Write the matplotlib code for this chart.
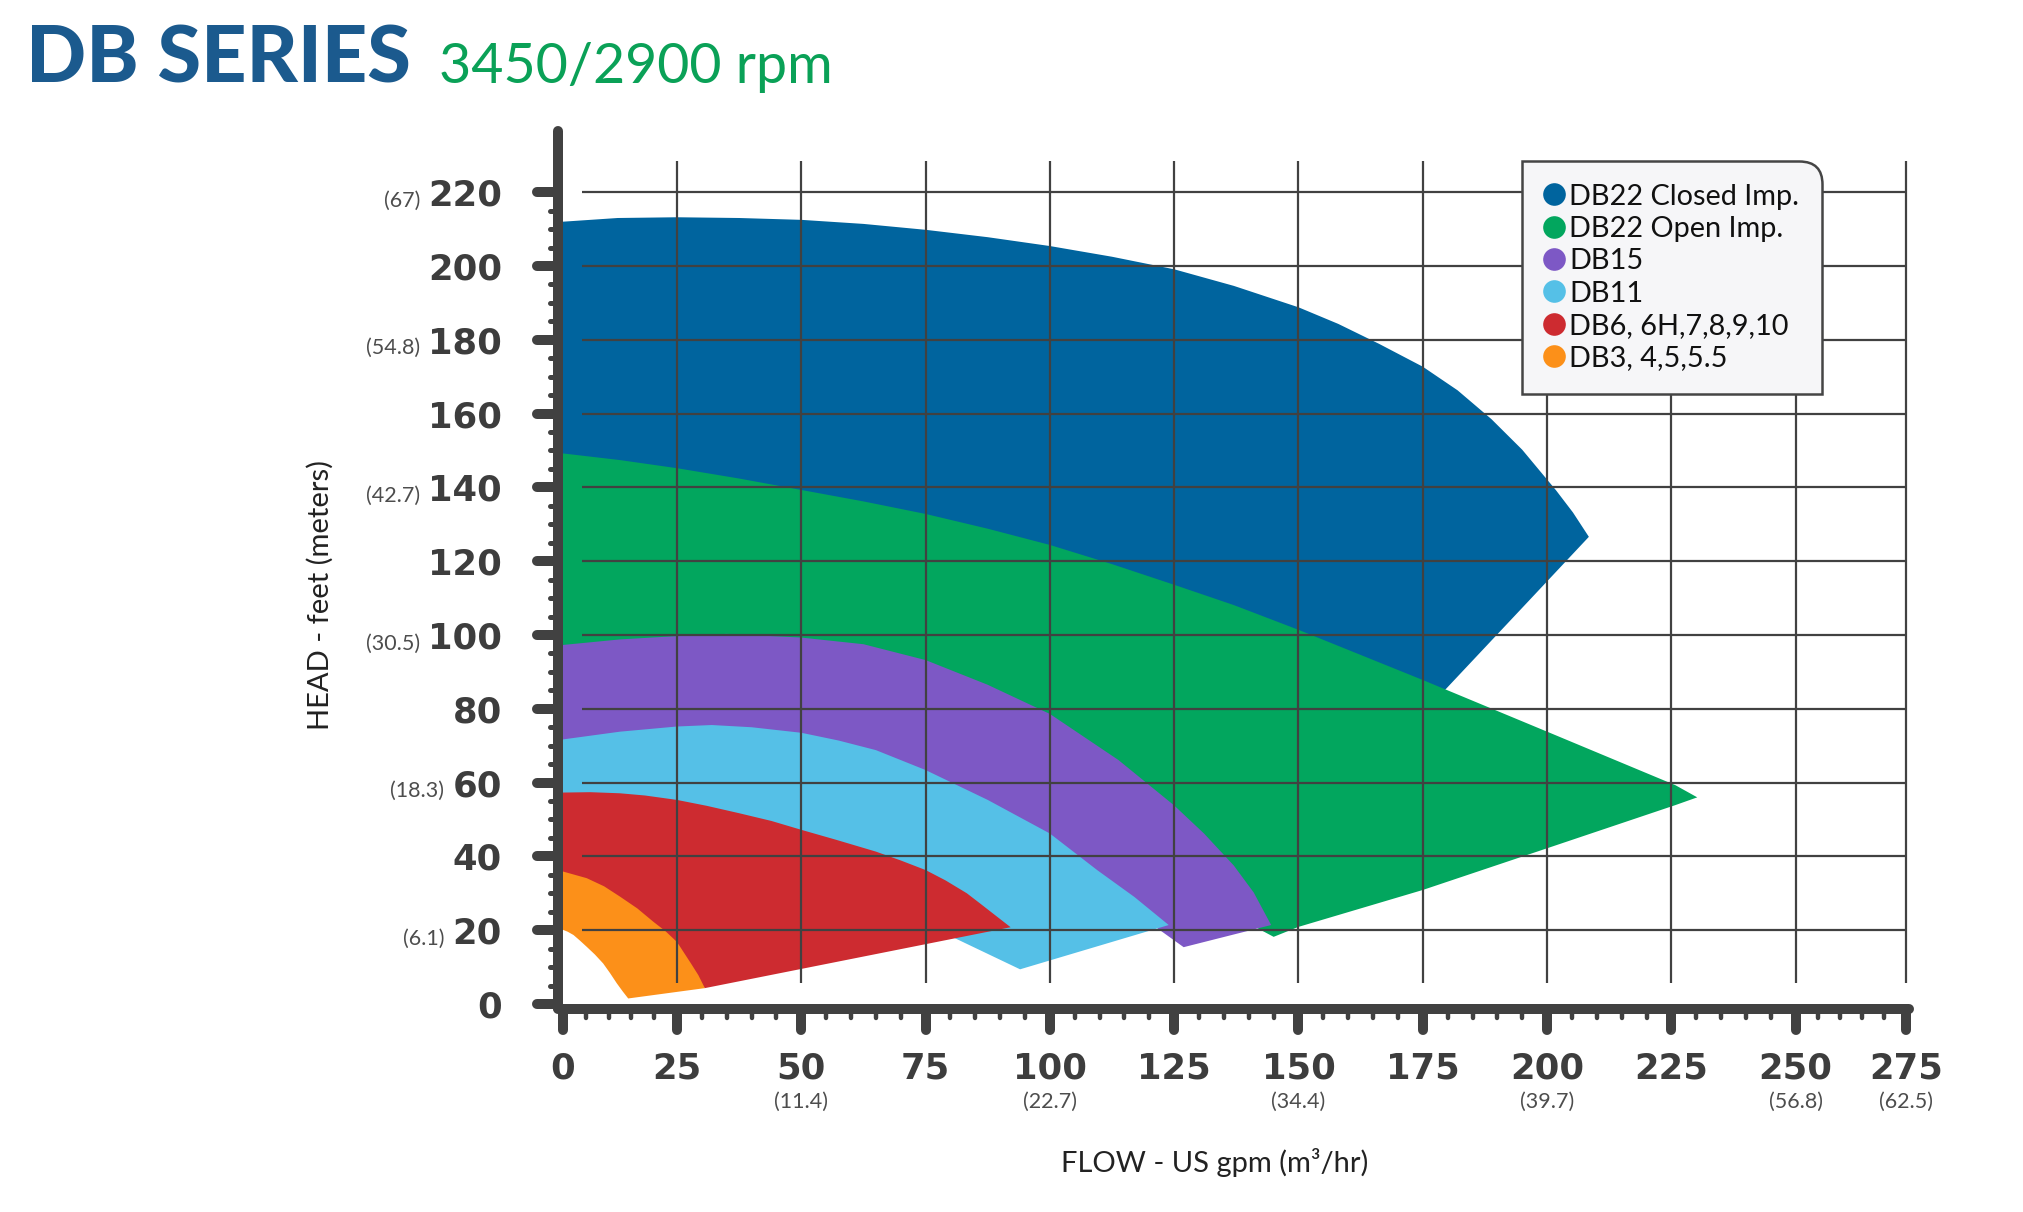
import numpy as np
import matplotlib.pyplot as plt
import matplotlib.ticker as mticker
from matplotlib.lines import Line2D
from matplotlib.markers import MarkerStyle, TICKLEFT, TICKDOWN
from matplotlib.path import Path


# ---------- Data ----------
FLOW_TICKS = [0, 25, 50, 75, 100, 125, 150, 175, 200, 225, 250, 275]
HEAD_TICKS = [0, 20, 40, 60, 80, 100, 120, 140, 160, 180, 200, 220]

FLOW_M3_AT = [50, 100, 150, 200, 250, 275]
FLOW_M3_LBL = ['(11.4)', '(22.7)', '(34.4)', '(39.7)', '(56.8)', '(62.5)']
HEAD_M_AT = [20, 60, 100, 140, 180, 220]
HEAD_M_LBL = ['(6.1)', '(18.3)', '(30.5)', '(42.7)', '(54.8)', '(67)']

SERIES = ['DB22 Closed Imp.', 'DB22 Open Imp.', 'DB15', 'DB11',
          'DB6, 6H,7,8,9,10', 'DB3, 4,5,5.5']
COLORS = ['#00649e', '#02a65e', '#7d58c5', '#55c0e7', '#cd2b30', '#fc9019']

# operating envelopes (gpm, ft) - outline of each coloured area
db22c_flow = [0, 12, 25, 37.5, 50, 62.5, 75, 87.5, 100, 112.5, 125, 137,
              150, 158, 166.2, 175, 182, 188.8, 195, 201.8, 205.2, 208.4,
              196, 179.6, 172, 0]
db22c_head = [212.0, 213.0, 213.2, 213.0, 212.5, 211.4, 209.8, 207.8, 205.4,
              202.5, 199.1, 194.6, 188.8, 184.3, 178.9, 172.7, 166.3, 158.5,
              150.2, 139.2, 133.2, 126.6, 108.8, 85.3, 74.5, 120]

db22o_flow = [0, 12.5, 25, 37.5, 50, 62.5, 75, 87.5, 100, 112.5, 125, 137,
              150, 175, 200, 225.8, 230.2, 225.8, 200, 175, 150, 145, 139,
              110, 0]
db22o_head = [149.2, 147.4, 145.2, 142.4, 139.3, 136.2, 132.8, 128.8, 124.4,
              119.2, 113.6, 108.1, 101.4, 87.8, 73.8, 59.3, 56.0, 53.9, 42.2,
              30.9, 20.9, 18.2, 22.5, 55, 85]

db15_flow = [0, 12.5, 25, 35, 50, 62.5, 75, 87.5, 100, 113.8, 125, 131, 137,
             141, 144.5, 126.9, 118, 90, 0]
db15_head = [97.3, 98.8, 99.7, 100.3, 99.3, 97.5, 93.2, 86.5, 78.6, 66.1,
             53.8, 46.2, 37.5, 30.2, 21.4, 15.4, 24, 45, 62]

db11_flow = [0, 12.5, 25, 32, 40, 50, 57.5, 65, 75, 87.5, 100, 109.5, 117,
             123.9, 94, 81.1, 60, 0]
db11_head = [71.7, 73.8, 75.2, 75.6, 75.0, 73.5, 71.4, 68.8, 63.4, 55.3, 46.2,
             36.3, 29.0, 21.4, 9.4, 17.7, 30, 45]

db6_flow = [0, 6, 12.5, 18, 25, 31, 37.5, 44, 50, 57, 65, 70, 75, 79, 83.3,
            86, 92.1, 30.6, 20, 0]
db6_head = [57.3, 57.4, 57.1, 56.5, 55.3, 53.7, 51.7, 49.6, 47.2, 44.5, 41.3,
            38.9, 36.3, 33.5, 30.0, 27.2, 20.8, 4.3, 15, 25]

db3_flow = [0, 5.2, 9, 12.5, 16.3, 19.8, 22.5, 25, 27.8, 29.3, 30.6, 14.3,
            13.1, 11.8, 10.3, 8.8, 7, 5.2, 3.7, 2.3, 1, 0]
db3_head = [35.9, 34.1, 31.9, 29.1, 25.9, 22.3, 19.7, 16.8, 11.0, 7.8, 4.3,
            1.5, 3.4, 5.6, 8.4, 11.0, 13.4, 15.5, 17.2, 18.7, 19.6, 20.1]

OUTLINES = [(db22c_flow, db22c_head), (db22o_flow, db22o_head),
            (db15_flow, db15_head), (db11_flow, db11_head),
            (db6_flow, db6_head), (db3_flow, db3_head)]

DARK = '#414141'
TITLE_BLUE = '#1b5a8e'
RPM_GREEN = '#0aa157'


# ---------- Flow scale: the sheet draws the first and last 25 gpm steps narrower ----------
_XK = np.array([-100.0, 0.0, 25.0, 250.0, 275.0, 400.0])
_PK = np.array([-456.0, 0.0, 114.0, 1232.7, 1342.7, 1892.7])


def flow_fwd(x):
    return np.interp(x, _XK, _PK)


def flow_inv(p):
    return np.interp(p, _PK, _XK)


def corner_box(x0, y0, width, height, mutation_size):
    """Legend frame with only the top-right corner rounded."""
    r = 0.8 * mutation_size
    x1, y1 = x0 + width, y0 + height
    verts = [(x0, y0), (x1, y0), (x1, y1 - r), (x1, y1), (x1 - r, y1),
             (x0, y1), (x0, y0)]
    codes = [Path.MOVETO, Path.LINETO, Path.LINETO, Path.CURVE3, Path.CURVE3,
             Path.LINETO, Path.CLOSEPOLY]
    return Path(verts, codes)


# ---------- Figure ----------
fig = plt.figure(figsize=(20.24, 12.12), dpi=100)
ax = fig.add_axes([0.26690, 0.15944, 0.68117, 0.73833])
ax.set_xscale('function', functions=(flow_fwd, flow_inv))
ax.set_xlim(-5, 278)
ax.set_ylim(-4, 238.5)

for (fx, fy), col in zip(OUTLINES, COLORS):
    ax.fill(fx, fy, color=col, lw=0, zorder=1)

# grid drawn over the areas, stopping short of the axes
ax.hlines(HEAD_TICKS[1:], 4.2, FLOW_TICKS[-1], colors=DARK, lw=1.6, zorder=2)
ax.vlines(FLOW_TICKS[1:], 5.7, 228.4, colors=DARK, lw=1.6, zorder=2)

# heavy rounded axes
for side in ['top', 'right']:
    ax.spines[side].set_visible(False)
ax.spines['left'].set_position(('data', -1.2))
ax.spines['left'].set_bounds(-1.2, 236.5)
ax.spines['bottom'].set_position(('data', -1.3))
ax.spines['bottom'].set_bounds(-1.2, 275.8)
for side in ['left', 'bottom']:
    ax.spines[side].set_linewidth(7.2)
    ax.spines[side].set_color(DARK)
    ax.spines[side].set_capstyle('round')

ax.set_xticks(FLOW_TICKS)
ax.set_xticklabels([str(v) for v in FLOW_TICKS])
ax.set_yticks(HEAD_TICKS)
ax.set_yticklabels([str(v) for v in HEAD_TICKS])
x_minor = [v for v in range(0, 276, 5) if v % 25]
y_minor = [v for v in range(0, 221, 5) if v % 20]
ax.xaxis.set_minor_locator(mticker.FixedLocator(x_minor))
ax.yaxis.set_minor_locator(mticker.FixedLocator(y_minor))

ax.tick_params(which='major', direction='out', length=15, width=7.2,
               color=DARK, labelsize=25.5, labelcolor='#3d3d3d',
               labelfontfamily='DejaVu Sans')
ax.tick_params(axis='y', which='major', pad=25)
ax.tick_params(axis='x', which='major', pad=16)
ax.tick_params(axis='y', which='minor', direction='out', length=5.8,
               width=3.6, color=DARK)
ax.tick_params(axis='x', which='minor', direction='out', length=6.8,
               width=3.2, color=DARK)
plt.setp(ax.get_xticklabels() + ax.get_yticklabels(), fontweight='bold')

for t in (ax.yaxis.get_major_ticks(len(HEAD_TICKS))
          + ax.yaxis.get_minor_ticks(len(y_minor))):
    t.tick1line.set_marker(MarkerStyle(TICKLEFT, capstyle='round'))
for t in (ax.xaxis.get_major_ticks(len(FLOW_TICKS))
          + ax.xaxis.get_minor_ticks(len(x_minor))):
    t.tick1line.set_marker(MarkerStyle(TICKDOWN, capstyle='round'))

# metric equivalents next to the imperial tick labels
small = dict(fontsize=15.5, color='#4d4d4d', family='Lato')
yticks = ax.yaxis.get_major_ticks()
for v, lbl in zip(HEAD_M_AT, HEAD_M_LBL):
    ax.annotate(lbl, xy=(0, 0), xycoords=yticks[HEAD_TICKS.index(v)].label1,
                xytext=(-8, 2), textcoords='offset pixels',
                ha='right', va='bottom', **small)
for v, lbl in zip(FLOW_M3_AT, FLOW_M3_LBL):
    ax.text(v, -0.093, lbl, transform=ax.get_xaxis_transform(),
            ha='center', va='center', **small)

ax.set_xlabel('FLOW - US gpm (m³/hr)', fontsize=21, family='Lato',
              color='#222222', va='center')
ax.xaxis.set_label_coords(0.4894, -0.1601)
ax.set_ylabel('HEAD - feet (meters)', fontsize=21, family='Lato',
              color='#222222', va='center', ha='center')
ax.yaxis.set_label_coords(-0.1597, 0.4736)

# legend
handles = [Line2D([], [], ls='none', marker='o', markersize=16.3,
                  markerfacecolor=c, markeredgewidth=0) for c in COLORS]
leg = ax.legend(handles, SERIES, loc='upper left',
                bbox_to_anchor=(1521.7 / 2024, 1 - 161 / 1212),
                bbox_transform=fig.transFigure, borderaxespad=0,
                prop={'family': 'Lato', 'size': 20.8},
                handlelength=0.7, handletextpad=0.17, borderpad=0.78,
                labelspacing=0.22, framealpha=1, fancybox=False,
                edgecolor='#454545', facecolor='#f6f6f8')
leg.get_frame().set_linewidth(1.8)
leg.get_frame().set_boxstyle(corner_box)
for txt in leg.get_texts():
    txt.set_color('#111111')

# title
fig.text(0.01285, 0.93152, 'DB SERIES', fontsize=57, fontweight='black',
         family='Lato', color=TITLE_BLUE, va='baseline')
fig.text(0.2169, 0.93152, '3450/2900 rpm', fontsize=40, family='Lato',
         color=RPM_GREEN, va='baseline')

fig.savefig('out.png', dpi=100)
